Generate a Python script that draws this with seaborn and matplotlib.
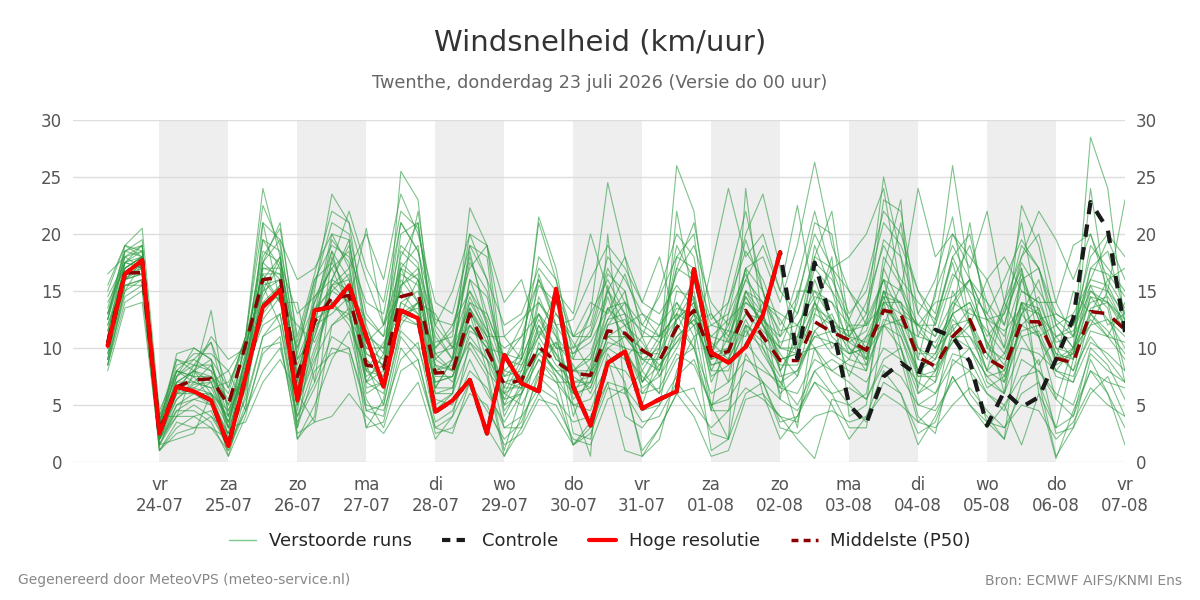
import pandas as pd
import numpy as np
import matplotlib
matplotlib.use("Agg")
import matplotlib.pyplot as plt
from matplotlib.lines import Line2D
import seaborn as sns

# Tijdas: 6-uurlijkse stappen vanaf do 23-07 06 uur
tijden = pd.date_range("2026-07-23 06:00", periods=60, freq="6h")

# Hoge resolutie (loopt 10 dagen)
hoge_resolutie = [10.2, 16.5, 17.7, 2.5, 6.6, 6.2, 5.4, 1.4, 7.5, 13.6, 15.1, 5.4, 13.3, 13.6, 15.5, 11.0,
                  6.6, 13.3, 12.6, 4.4, 5.4, 7.2, 2.5, 9.4, 6.9, 6.2, 15.2, 6.6, 3.2, 8.7, 9.7, 4.7,
                  5.5, 6.2, 16.9, 9.6, 8.7, 10.1, 12.9, 18.4]

# Controle-run (eerste 10 dagen gelijk aan hoge resolutie)
controle = hoge_resolutie[:39] + [18.4, 9.1, 17.5, 12.2, 5.0, 3.4, 7.5, 8.7, 7.6, 11.6, 11.0, 8.8,
                                  3.2, 6.2, 4.8, 5.7, 9.0, 12.6, 22.8, 20.4, 11.4]

# Mediaan (P50)
p50 = [10.5, 16.6, 16.6, 2.8, 6.6, 7.2, 7.3, 5.0, 10.3, 16.0, 16.2, 7.5, 12.3, 14.4, 14.6, 8.5,
       8.2, 14.5, 14.9, 7.8, 7.9, 13.0, 9.8, 6.8, 7.2, 10.1, 8.8, 7.8, 7.6, 11.5, 11.3, 9.8,
       8.9, 11.8, 13.3, 9.3, 9.7, 13.3, 11.0, 8.9, 8.9, 12.3, 11.4, 10.7, 9.8, 13.3, 13.0, 9.2,
       8.4, 11.0, 12.5, 9.1, 8.2, 12.3, 12.3, 9.1, 8.7, 13.2, 13.0, 11.6]

# Verstoorde runs (geschat uit de figuur)
verstoorde_runs = [
    [9.5,16.0,17.5, 2.0,5.5,6.8,7.0, 3.5,9.0,17.0,16.5, 6.0,13.5,15.0,16.5, 9.0,7.0,16.0,14.0, 6.5,9.0,14.5,11.0, 5.0,8.0,12.0,9.5, 6.0,8.5,13.5,12.0, 8.0,10.5,12.5,15.0, 8.0,11.0,14.5,12.0, 9.5,7.5,14.0,10.0, 12.0,8.5,15.0,11.5, 8.0,9.5,13.0,14.0, 10.5,7.0,14.0,11.0, 8.0,10.0,15.5,12.0, 13.0],
    [12.5,18.0,19.0, 3.5,8.5,9.0,10.5, 6.5,11.0,22.5,19.0, 10.0,15.5,21.0,20.0, 13.0,11.0,21.0,18.5, 10.0,11.5,18.0,13.0, 9.0,11.0,16.0,12.0, 9.5,11.5,17.0,14.0, 12.0,14.5,18.0,17.0, 12.5,14.0,18.5,16.0, 12.0,14.5,20.0,17.0, 15.0,13.0,19.5,18.0, 13.0,11.0,16.0,19.0, 14.0,12.0,17.5,15.0, 12.5,11.0,17.0,16.5, 14.5],
    [8.5,14.0,15.0, 1.0,3.0,4.0,4.5, 1.0,5.0,11.0,12.0, 3.0,8.0,9.5,10.0, 5.0,4.5,9.0,10.5, 3.5,4.5,8.0,6.5, 3.0,4.0,6.5,5.5, 3.5,4.0,7.0,6.5, 4.5,5.0,7.5,9.0, 5.0,5.5,8.0,7.0, 5.5,4.5,7.0,6.0, 6.5,5.5,8.5,7.5, 5.0,4.5,7.0,8.0, 6.0,5.0,7.5,8.0, 5.5,4.0,8.0,7.0, 6.5],
    [11.0,17.5,18.5, 3.0,7.0,8.0,9.0, 2.0,9.5,19.5,17.0, 7.5,14.0,18.5,13.0, 7.0,9.5,17.5,16.0, 8.5,7.0,11.0,9.0, 7.0,6.5,9.5,10.5, 8.5,6.0,10.0,9.0, 11.0,7.5,11.0,12.5, 10.5,9.0,12.5,9.5, 7.0,8.0,11.5,13.0, 9.5,11.0,12.0,15.5, 10.0,8.0,12.5,11.0, 9.0,14.0,11.0,8.5, 11.0,9.0,14.5,12.5, 10.0],
    [10.0,15.5,16.0, 2.5,6.0,7.5,13.3, 4.0,10.5,15.0,18.0, 9.0,11.0,16.0,19.0, 12.0,8.0,25.5,23.0, 9.0,8.0,16.0,14.5, 8.0,7.5,11.0,13.0, 10.5,8.0,12.5,15.0, 7.0,9.5,26.0,22.0, 10.0,7.0,15.0,13.0, 8.0,11.0,17.0,15.0, 12.5,9.0,14.0,21.0, 11.0,10.5,13.0,10.0, 7.5,8.0,16.0,12.5, 9.0,10.0,12.0,15.0, 12.0],
    [13.5,18.5,19.5, 1.5,4.5,5.5,6.0, 0.5,6.0,14.0,15.5, 4.5,12.0,13.0,14.5, 7.0,6.0,13.0,12.0, 6.0,6.5,13.5,10.5, 5.5,6.0,9.0,7.0, 7.0,7.0,11.0,11.0, 10.0,8.5,10.5,12.0, 9.0,9.5,13.0,11.5, 10.0,9.5,10.0,10.5, 9.5,10.0,13.5,12.0, 7.5,8.0,10.5,12.5, 9.5,7.5,12.0,13.5, 8.5,9.5,12.5,11.0, 10.5],
    [16.5,18.0,17.0, 4.0,9.0,8.5,8.0, 6.0,11.0,16.5,14.0, 12.0,10.5,14.0,12.5, 10.0,10.0,15.5,17.0, 12.0,10.0,12.0,10.0, 9.5,9.0,13.0,9.0, 8.0,9.5,14.5,10.0, 9.5,12.0,14.0,11.0, 12.0,11.5,11.0,14.0, 12.5,10.0,16.0,12.0, 11.0,9.0,17.0,13.5, 12.0,10.0,11.5,13.5, 11.5,9.5,13.0,11.0, 12.0,10.0,13.0,16.0, 13.5],
    [9.0,16.5,17.5, 2.0,5.0,6.0,5.0, 2.5,7.5,13.0,15.0, 6.0,14.5,17.0,18.5, 8.5,5.0,12.0,14.0, 5.0,6.0,16.0,12.0, 4.0,7.0,14.5,11.0, 5.5,7.0,12.0,14.0, 6.0,8.0,15.0,14.5, 7.0,10.0,17.0,10.0, 6.5,12.0,10.0,8.0, 9.0,12.5,16.0,10.0, 6.0,7.0,15.0,12.0, 7.0,6.0,13.0,16.0, 10.0,8.0,11.0,9.0, 7.0],
    [12.0,17.0,18.0, 3.5,8.0,7.0,6.5, 7.0,10.0,18.0,20.5, 11.0,16.5,22.0,21.0, 16.0,12.0,19.0,17.5, 9.0,10.5,15.0,12.5, 8.0,9.5,15.5,14.0, 10.0,13.0,16.0,13.0, 8.5,11.0,19.0,16.0, 12.0,13.0,19.5,15.0, 11.0,16.0,22.0,16.5, 11.0,14.0,19.0,16.0, 14.0,12.5,18.0,14.5, 11.0,13.0,19.0,17.0, 13.0,12.0,16.0,19.5, 16.0],
    [10.5,16.0,16.5, 2.5,6.5,6.5,7.5, 5.0,8.0,12.0,13.0, 5.0,9.0,12.0,13.0, 6.0,7.0,12.5,12.0, 7.0,7.5,10.5,8.0, 6.0,5.0,8.0,7.0, 5.0,4.5,8.5,9.5, 7.5,6.0,9.0,10.0, 6.0,7.0,9.0,8.0, 7.0,5.0,8.0,9.0, 8.0,7.0,10.0,9.0, 7.0,6.0,8.5,10.0, 7.5,6.0,10.0,9.5, 8.0,7.0,10.5,9.5, 8.0],
    [8.0,13.5,14.0, 1.5,4.0,5.0,4.0, 1.5,4.5,9.5,11.0, 2.0,5.0,9.0,11.5, 5.5,3.0,8.0,9.0, 2.5,3.0,6.0,5.0, 1.5,2.5,5.5,5.0, 2.0,1.5,5.5,6.5, 1.0,3.0,6.0,6.5, 2.5,2.0,6.0,7.0, 3.0,2.5,4.0,4.5, 3.5,4.0,6.0,5.0, 3.5,3.0,5.0,6.5, 4.5,3.0,5.0,4.5, 2.0,3.5,6.5,5.0, 4.0],
    [14.5,17.5,18.0, 3.0,9.5,10.0,9.0, 6.5,11.0,21.0,19.5, 16.0,17.0,20.0,17.0, 20.0,16.0,23.5,20.0, 14.0,13.0,19.0,16.0, 12.0,13.0,17.0,15.0, 11.0,12.0,18.0,16.0, 13.0,12.0,16.5,19.0, 14.0,12.0,16.0,19.0, 15.0,13.0,18.0,17.0, 13.0,15.0,21.0,19.0, 15.0,13.0,20.0,18.0, 16.0,12.0,18.0,20.0, 14.0,11.0,19.0,17.0, 15.0],
    [11.5,17.0,18.0, 2.0,4.5,4.5,3.5, 0.5,4.0,10.0,10.5, 2.5,3.5,12.0,13.5, 3.0,5.5,14.0,13.0, 4.5,6.0,10.0,7.5, 0.5,4.0,10.5,7.5, 1.5,3.5,9.5,7.0, 0.5,2.0,8.0,11.0, 1.0,2.0,9.5,7.0, 3.5,4.0,8.0,6.0, 3.0,3.0,12.0,10.0, 4.0,2.5,9.0,8.0, 3.5,2.0,7.0,9.0, 2.5,3.0,9.0,6.0, 3.0],
    [10.0,16.5,17.0, 2.5,7.5,9.0,8.0, 3.0,7.0,16.0,18.0, 7.0,13.0,17.5,15.0, 9.0,7.5,17.0,19.0, 8.0,9.0,22.3,19.0, 7.5,9.0,21.5,17.0, 9.0,13.0,24.5,18.0, 11.0,15.0,20.0,18.0, 9.5,14.0,20.0,23.5, 17.0,9.0,18.0,22.0, 12.0,10.0,15.0,12.0, 11.0,14.5,26.0,16.0, 10.0,14.0,21.0,13.0, 9.0,15.0,13.0,11.0, 14.0],
    [9.5,15.0,16.0, 3.0,6.0,6.5,6.0, 4.5,9.0,15.5,16.0, 8.5,12.5,13.5,13.0, 7.5,8.5,13.0,14.0, 9.5,8.0,12.0,10.0, 7.0,7.5,9.5,8.0, 8.0,8.0,10.0,11.0, 9.0,9.0,11.0,12.5, 8.5,9.0,12.0,10.5, 8.5,8.5,11.0,11.5, 10.5,9.5,12.0,12.5, 9.0,8.5,10.5,12.0, 9.5,8.0,11.5,12.0, 9.5,9.0,12.0,12.5, 11.0],
    [15.0,19.0,20.5, 4.5,8.0,9.5,9.5, 8.0,10.5,18.5,17.5, 9.5,16.0,19.0,18.0, 14.0,13.0,21.0,18.5, 12.5,12.0,17.0,19.0, 11.0,12.5,14.0,12.0, 12.5,16.0,19.0,17.0, 14.0,13.0,15.5,13.5, 11.0,12.5,14.0,12.5, 11.0,13.0,17.5,16.0, 12.5,16.0,22.0,20.0, 15.0,12.0,16.5,15.0, 13.0,16.0,19.5,17.0, 12.0,13.0,16.0,15.5, 12.5],
    [12.0,16.0,17.0, 1.0,3.5,3.0,3.0, 2.0,6.5,15.5,12.0, 4.0,8.5,15.5,14.0, 4.5,4.0,11.0,9.0, 3.0,4.0,10.5,9.0, 3.0,3.0,8.0,10.5, 2.5,2.0,9.0,4.0, 3.0,5.0,13.0,10.0, 4.5,4.5,12.0,6.0, 4.0,3.5,10.0,7.0, 5.0,6.0,14.0,9.0, 3.5,5.0,12.0,6.0, 4.0,2.0,14.0,7.0, 3.0,4.0,10.0,8.5, 5.5],
    [13.0,18.0,18.5, 3.5,7.0,8.0,7.5, 5.5,10.0,16.5,16.5, 8.0,12.0,18.5,16.0, 10.0,9.0,17.0,16.0, 11.0,9.0,14.0,13.0, 9.0,8.5,12.5,10.0, 9.5,10.5,13.5,14.0, 11.0,11.0,13.0,16.0, 10.0,11.5,16.0,14.0, 11.5,12.0,14.5,14.0, 10.5,11.5,16.0,15.0, 11.5,10.0,13.5,16.0, 12.5,10.0,15.0,14.0, 10.5,11.0,14.0,14.5, 12.0],
    [10.0,15.5,16.0, 1.5,5.0,5.5,5.0, 1.5,6.5,13.5,15.5, 5.5,10.0,14.0,12.0, 8.0,7.5,12.5,14.0, 7.0,7.5,12.0,10.0, 5.0,6.0,10.0,8.0, 6.5,7.0,11.0,10.0, 6.5,7.5,10.0,13.0, 8.0,8.0,12.0,11.0, 6.0,7.5,11.5,9.5, 8.5,8.0,12.5,12.0, 8.0,7.0,11.0,10.0, 6.5,7.5,12.0,11.0, 7.5,7.0,13.0,11.5, 9.5],
    [11.0,18.5,19.0, 2.0,6.0,8.5,10.5, 4.5,7.5,17.5,19.5, 9.0,13.0,20.0,19.5, 11.0,10.0,18.0,21.0, 10.5,11.0,20.0,16.0, 6.5,10.0,18.0,16.0, 8.0,9.0,15.0,13.0, 7.0,10.0,18.0,20.0, 9.0,16.0,22.0,15.0, 10.0,14.0,21.0,20.0, 11.0,13.0,25.0,18.0, 9.0,15.0,19.0,16.0, 14.0,10.0,22.5,19.0, 12.0,10.0,28.5,24.0, 12.0],
    [9.0,14.5,15.5, 2.0,4.0,4.0,3.0, 1.0,4.5,8.0,10.0, 4.0,7.0,11.0,10.0, 4.5,5.0,11.5,10.0, 5.5,5.0,9.0,6.0, 3.5,6.0,9.0,7.5, 5.0,5.5,8.5,8.0, 6.0,6.5,9.5,8.5, 5.0,6.0,10.5,8.5, 6.5,6.0,9.0,8.0, 7.0,5.5,9.0,10.0, 5.0,6.0,9.5,9.0, 6.0,4.5,9.0,8.0, 6.0,5.0,9.5,8.0, 7.0],
    [12.5,17.5,17.0, 3.0,8.0,7.5,7.5, 3.5,9.0,14.5,17.5, 13.0,14.5,16.0,15.0, 12.5,11.0,15.0,13.0, 10.0,12.0,15.0,11.5, 10.0,11.0,13.0,11.0, 9.0,9.0,12.5,13.0, 11.5,10.5,13.5,13.0, 11.0,10.5,13.0,12.5, 10.5,11.0,14.0,12.0, 11.5,12.0,14.0,14.0, 12.0,11.0,14.0,13.0, 12.5,11.5,13.5,13.0, 11.0,11.5,15.0,14.0, 12.5],
    [10.5,17.0,18.0, 2.5,7.0,7.0,8.5, 4.0,8.5,14.0,14.5, 7.5,11.5,15.0,14.0, 9.5,8.5,15.5,16.5, 8.0,8.5,14.0,11.5, 7.5,8.0,11.5,9.5, 7.5,6.5,11.0,12.0, 10.5,8.0,12.5,14.0, 9.0,10.0,14.0,13.0, 9.0,9.5,13.0,12.0, 10.0,9.0,15.0,14.0, 8.0,9.0,14.0,16.0, 10.0,9.0,14.0,13.0, 9.0,9.5,17.0,18.5, 13.0],
    [8.5,15.0,17.5, 1.0,2.5,3.0,4.0, 2.5,5.5,11.0,13.0, 3.5,6.5,10.0,9.5, 3.0,3.5,10.0,8.0, 3.0,2.5,7.0,4.5, 2.0,3.5,7.5,6.0, 1.5,2.5,6.5,6.0, 3.5,4.0,7.0,5.0, 3.0,4.5,6.5,5.5, 4.0,2.0,0.3,5.5, 5.0,3.5,7.0,6.0, 2.5,3.5,7.5,5.0, 3.5,3.0,6.0,7.0, 0.5,3.0,6.0,7.5, 4.0],
    [11.5,16.5,16.5, 2.0,6.0,6.0,7.0, 3.0,9.0,17.0,17.0, 6.5,11.0,15.5,16.0, 6.5,7.0,14.0,15.0, 8.5,8.0,13.5,9.0, 5.5,8.5,11.0,8.5, 7.0,7.5,13.5,11.0, 9.0,8.0,11.5,14.5, 8.5,9.0,15.0,12.0, 9.0,9.5,14.0,11.0, 9.5,10.0,14.0,13.0, 10.0,9.0,12.0,12.5, 8.0,9.5,14.0,13.5, 9.5,8.0,13.5,14.0, 11.5],
    [14.0,17.0,18.0, 4.0,7.5,8.5,8.5, 5.0,9.5,19.5,18.5, 7.0,15.0,23.5,21.0, 11.5,9.5,20.0,21.0, 9.5,10.0,17.5,15.0, 9.0,12.0,16.0,13.0, 11.0,11.0,16.5,15.0, 9.0,10.0,17.0,16.0, 9.5,12.0,17.0,15.0, 8.0,10.5,19.0,15.0, 10.0,8.0,18.0,15.5, 12.0,12.0,18.0,20.0, 13.0,11.0,16.0,17.0, 11.0,12.0,18.0,20.0, 18.0],
    [9.0,16.0,16.5, 2.5,5.5,7.0,6.5, 3.5,8.0,12.5,14.5, 5.0,9.5,14.0,15.0, 8.0,6.5,13.0,13.5, 6.5,6.5,11.5,10.5, 6.0,7.0,10.0,8.0, 6.0,6.5,10.5,10.0, 7.0,8.5,10.5,13.0, 7.5,8.5,11.5,10.0, 7.5,8.0,11.0,10.5, 9.0,8.5,12.0,11.0, 7.5,7.5,11.0,11.0, 8.0,7.0,11.0,11.5, 8.0,7.5,11.5,11.0, 9.0],
    [12.5,19.0,18.5, 3.0,8.0,7.5,5.5, 2.5,8.5,17.5,16.0, 3.0,12.0,19.5,17.5, 7.0,8.0,18.5,17.0, 6.5,9.0,18.5,12.0, 4.5,6.5,14.0,11.5, 4.0,8.0,15.5,9.0, 5.0,9.5,14.0,12.0, 4.5,13.0,16.5,13.0, 5.5,15.0,15.0,12.5, 7.5,11.0,14.5,11.0, 6.5,12.5,17.5,12.0, 8.0,13.5,17.0,11.0, 5.5,10.0,15.0,13.5, 7.0],
    [10.0,17.5,17.0, 2.0,6.5,6.0,6.0, 2.0,7.0,15.0,16.0, 6.5,13.0,15.5,17.0, 9.5,8.5,16.5,15.5, 7.5,7.5,13.0,11.0, 6.5,6.5,12.0,9.0, 8.0,7.5,12.0,12.5, 9.5,9.5,12.5,14.0, 9.5,10.0,14.5,12.0, 10.0,10.0,13.5,12.5, 11.0,10.5,14.5,14.0, 9.5,9.5,13.0,14.0, 10.5,8.5,13.0,14.5, 10.0,9.5,14.5,14.0, 12.0],
    [13.0,18.5,18.0, 3.5,9.0,8.0,11.0, 9.0,10.0,16.0,14.0, 10.0,14.0,17.0,13.5, 10.5,12.0,17.0,14.0, 13.0,10.0,13.5,11.0, 11.0,9.0,13.0,10.0, 10.0,11.0,15.0,12.0, 13.0,11.0,13.0,12.0, 13.0,11.0,15.0,14.0, 13.0,12.0,15.0,14.0, 12.0,12.0,16.0,13.0, 12.0,14.0,14.5,16.0, 12.5,13.0,16.5,12.5, 13.0,12.0,15.5,15.0, 13.0],
    [15.5,19.0,18.0, 2.0,7.5,10.0,9.0, 3.0,11.0,24.0,18.0, 2.0,4.0,16.0,19.5, 8.0,10.5,13.0,16.0, 6.0,6.0,13.0,8.0, 1.0,6.0,16.5,12.0, 5.0,0.5,20.0,6.0, 8.0,6.0,22.0,14.0, 5.0,2.0,24.0,12.0, 8.0,3.0,13.0,18.0, 4.0,5.0,17.0,23.0, 6.0,8.0,13.0,21.0, 12.0,6.0,17.0,6.0, 3.0,9.0,24.0,14.0, 8.0],
    [13.0,17.5,19.0, 4.0,4.0,8.0,7.0, 8.0,4.5,21.0,14.0, 14.0,7.0,18.0,14.0, 20.5,12.0,15.0,22.0, 12.0,15.0,20.0,19.0, 14.0,16.0,11.0,15.0, 13.0,20.0,15.0,18.0, 14.0,18.0,12.0,10.0, 17.0,24.0,18.0,20.0, 15.0,22.5,14.0,17.0, 18.0,20.0,24.0,15.0, 24.0,18.0,20.0,17.0, 22.0,14.0,18.0,22.0, 19.5,16.0,20.0,15.0, 23.0],
    [8.5,15.5,15.5, 1.5,2.0,2.5,6.0, 3.0,3.5,7.0,9.0, 6.0,3.5,4.0,6.0, 4.0,2.5,5.0,7.0, 2.0,4.0,7.0,3.0, 0.5,3.0,6.0,4.0, 1.5,3.0,7.0,1.0, 0.5,3.0,6.0,4.0, 0.5,1.0,5.5,6.0, 2.0,4.0,7.0,5.0, 2.0,4.0,8.0,6.0, 1.5,4.0,7.5,5.0, 3.0,5.0,1.5,6.0, 0.3,4.5,8.0,6.0, 1.5],
    [11.0,16.0,17.5, 3.0,6.5,8.0,6.0, 4.0,8.0,17.5,21.0, 10.5,16.0,17.5,22.0, 17.0,14.0,22.0,20.5, 11.5,9.0,19.0,18.0, 6.0,9.0,21.0,16.0, 11.0,14.0,13.0,16.5, 12.0,11.0,17.0,21.0, 13.0,10.5,17.0,18.0, 14.0,19.0,26.3,19.0, 15.0,12.0,23.0,22.0, 13.0,16.0,21.5,12.0, 16.0,18.0,15.0,14.0, 14.0,19.0,20.0,16.0, 17.0],
]

# Tick labels (middernacht)
dag_ticks = pd.date_range("2026-07-24", "2026-08-07", freq="D")
dag_labels = ["vr\n24-07", "za\n25-07", "zo\n26-07", "ma\n27-07", "di\n28-07", "wo\n29-07", "do\n30-07",
              "vr\n31-07", "za\n01-08", "zo\n02-08", "ma\n03-08", "di\n04-08", "wo\n05-08", "do\n06-08",
              "vr\n07-08"]

# Long-form tabel voor seaborn
rijen = []
for r, run in enumerate(verstoorde_runs):
    for t, v in zip(tijden, run):
        rijen.append({"tijd": t, "wind": v, "run": r})
df_runs = pd.DataFrame(rijen)

sns.set_style("white")
plt.rcParams["font.family"] = ["DejaVu Sans"]

fig, ax = plt.subplots(figsize=(12, 6), dpi=100)
fig.subplots_adjust(left=0.061, right=0.9375, top=0.8, bottom=0.23)

# Grijze banden om de dag
for d in dag_ticks[::2][:-1]:
    ax.axvspan(d, d + pd.Timedelta(days=1), color="#eeeeee", zorder=0, lw=0)

sns.lineplot(data=df_runs, x="tijd", y="wind", units="run", estimator=None,
             color="#2b9a3f", lw=0.8, alpha=0.6, legend=False, ax=ax, zorder=2)
sns.lineplot(x=tijden, y=p50, color="#8b0000", lw=2.5, ax=ax, zorder=3,
             linestyle=(0, (4, 3)))
sns.lineplot(x=tijden, y=controle, color="#1a1a1a", lw=3, ax=ax, zorder=4,
             linestyle=(0, (3, 2.5)))
sns.lineplot(x=tijden[:len(hoge_resolutie)], y=hoge_resolutie, color="#ff0000", lw=3, ax=ax, zorder=5)

ax.set_xlim(pd.Timestamp("2026-07-22 18:00"), pd.Timestamp("2026-08-07 00:00"))
ax.set_ylim(0, 30)
ax.set_yticks(range(0, 31, 5))
ax.set_xticks(dag_ticks)
ax.set_xticklabels(dag_labels)
ax.set_xlabel("")
ax.set_ylabel("")
ax.grid(axis="y", color="#dddddd", lw=1)
ax.set_axisbelow(True)
for s in ax.spines.values():
    s.set_visible(False)
ax.tick_params(axis="y", length=0, labelsize=12, labelcolor="#555555", labelright=True, pad=8)
ax.tick_params(axis="x", length=7, width=2, color="#666666", labelsize=12, labelcolor="#555555", pad=3)

fig.text(0.5, 0.93, "Windsnelheid (km/uur)", ha="center", va="center", fontsize=21, color="#333333")
fig.text(0.5, 0.862, "Twenthe, donderdag 23 juli 2026 (Versie do 00 uur)", ha="center", va="center",
         fontsize=12.7, color="#666666")

handles = [Line2D([], [], color="#7fc98a", lw=1),
           Line2D([], [], color="#1a1a1a", lw=3, linestyle=(0, (2, 1.5))),
           Line2D([], [], color="#ff0000", lw=3),
           Line2D([], [], color="#8b0000", lw=2.5, linestyle=(0, (2, 1.5)))]
fig.legend(handles, ["Verstoorde runs", "Controle", "Hoge resolutie", "Middelste (P50)"],
           loc="center", bbox_to_anchor=(0.5, 0.098), ncol=4, frameon=False, fontsize=13,
           handlelength=1.5, handletextpad=0.7, columnspacing=1.7)

fig.text(0.015, 0.033, "Gegenereerd door MeteoVPS (meteo-service.nl)", ha="left", va="center",
         fontsize=10, color="#888888")
fig.text(0.985, 0.033, "Bron: ECMWF AIFS/KNMI Ens", ha="right", va="center", fontsize=10, color="#888888")

fig.savefig("out.png", dpi=100)
